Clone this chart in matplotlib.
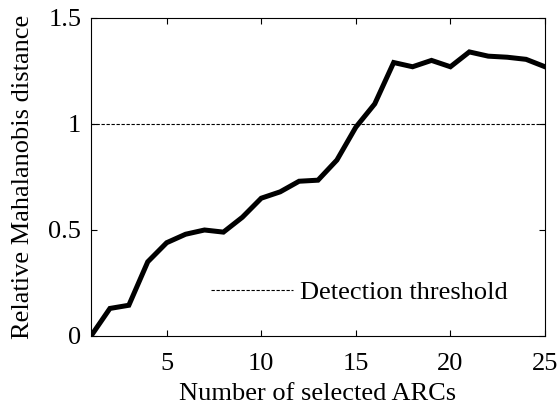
import matplotlib
matplotlib.use("Agg")
import matplotlib.pyplot as plt

n_arcs = list(range(1, 26))
rel_dist = [0.0, 0.13, 0.145, 0.35, 0.44, 0.48, 0.50, 0.49, 0.56, 0.65,
            0.68, 0.73, 0.735, 0.83, 0.985, 1.095, 1.29, 1.27, 1.30, 1.27,
            1.34, 1.32, 1.315, 1.305, 1.27]
threshold = 1.0

plt.rcParams['font.family'] = 'Liberation Serif'
plt.rcParams['font.size'] = 19

fig = plt.figure(figsize=(5.58, 4.08), dpi=100)
ax = fig.add_axes([91/558, 1 - 336/408, 454/558, 318/408])

ax.plot(n_arcs, rel_dist, color='black', lw=3.6, solid_joinstyle='miter')
ax.axhline(threshold, color='black', lw=0.8, ls=(0, (3, 1.5)), label='Detection threshold')

ax.set_xlim(1, 25)
ax.set_ylim(0, 1.5)
ax.set_xticks([5, 10, 15, 20, 25])
ax.set_yticks([0, 0.5, 1, 1.5])
ax.set_yticklabels(['0', '0.5', '1', '1.5'])
ax.tick_params(direction='in', top=True, right=True, length=4, width=0.8)
ax.tick_params(axis='x', pad=12)
ax.tick_params(axis='y', pad=7)
for s in ax.spines.values():
    s.set_linewidth(0.8)

ax.set_xlabel("Number of selected ARCs", labelpad=6)
ax.set_ylabel("Relative Mahalanobis distance", labelpad=10)
ax.legend(loc='lower right', bbox_to_anchor=(0.97, 0.025), frameon=False,
          handlelength=3.1, handletextpad=0.25)

fig.savefig("out.png", dpi=100)
